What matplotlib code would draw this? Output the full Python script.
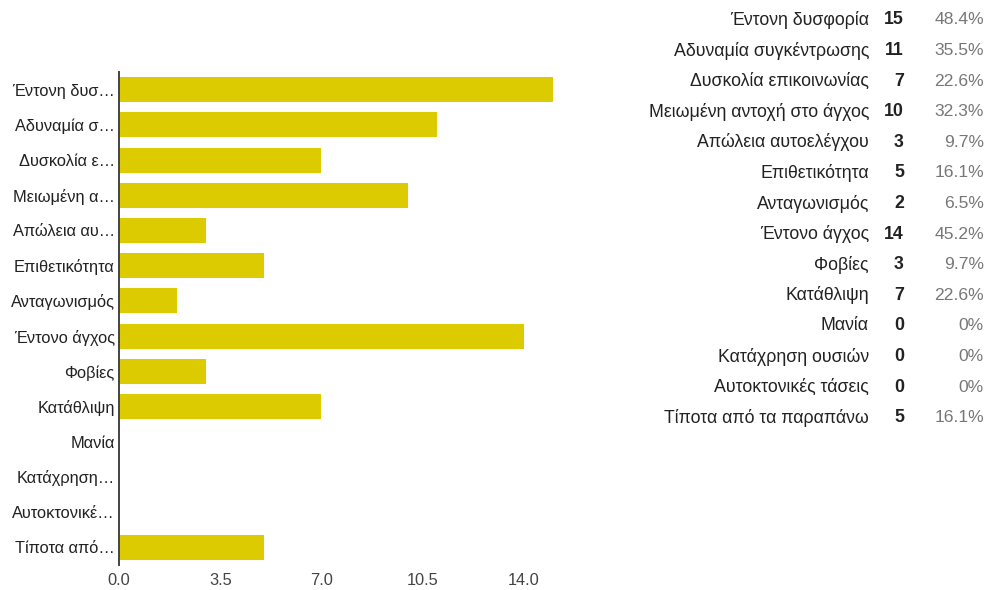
import matplotlib
matplotlib.use("Agg")
import matplotlib.pyplot as plt

# Survey responses (31 respondents)
full_labels = [
    "Έντονη δυσφορία", "Αδυναμία συγκέντρωσης", "Δυσκολία επικοινωνίας",
    "Μειωμένη αντοχή στο άγχος", "Απώλεια αυτοελέγχου", "Επιθετικότητα",
    "Ανταγωνισμός", "Έντονο άγχος", "Φοβίες", "Κατάθλιψη", "Μανία",
    "Κατάχρηση ουσιών", "Αυτοκτονικές τάσεις", "Τίποτα από τα παραπάνω",
]
short_labels = [
    "Έντονη δυσ…", "Αδυναμία σ…", "Δυσκολία ε…", "Μειωμένη α…",
    "Απώλεια αυ…", "Επιθετικότητα", "Ανταγωνισμός", "Έντονο άγχος",
    "Φοβίες", "Κατάθλιψη", "Μανία", "Κατάχρηση…", "Αυτοκτονικέ…",
    "Τίποτα από…",
]
counts = [15, 11, 7, 10, 3, 5, 2, 14, 3, 7, 0, 0, 0, 5]
percents = ["48.4%", "35.5%", "22.6%", "32.3%", "9.7%", "16.1%", "6.5%",
            "45.2%", "9.7%", "22.6%", "0%", "0%", "0%", "16.1%"]
xticks = [0.0, 3.5, 7.0, 10.5, 14.0]

plt.rcParams["font.family"] = ["Liberation Sans", "DejaVu Sans"]

W, H = 987, 590
fig = plt.figure(figsize=(W / 100, H / 100), dpi=100)

# Bar chart on the left
left, right, top, bottom = 119, 564.5, 72, 565
ax = fig.add_axes([left / W, 1 - bottom / H, (right - left) / W, (bottom - top) / H])
ypos = list(range(len(counts)))
ax.barh(ypos, counts, height=0.71, color="#dccb00")
ax.set_ylim(len(counts) - 0.5, -0.5)
ax.set_xlim(0, 15.4)
ax.set_yticks(ypos)
ax.set_yticklabels(short_labels, fontsize=11.8, color="#222222")
ax.set_xticks(xticks)
ax.set_xticklabels([f"{t:.1f}" for t in xticks], fontsize=11.8, color="#444444")
ax.tick_params(axis="both", length=0)
ax.tick_params(axis="y", pad=3)
ax.tick_params(axis="x", pad=6)
for s in ("top", "right", "bottom"):
    ax.spines[s].set_visible(False)
ax.spines["left"].set_color("#444444")
ax.spines["left"].set_linewidth(1.4)

# Summary table on the right
row0, step = 20, 30.6
for i, (lab, c, p) in enumerate(zip(full_labels, counts, percents)):
    y = 1 - (row0 + i * step) / H
    fig.text(869 / W, y, lab, ha="right", va="center", fontsize=12.8, color="#222222")
    fig.text(904 / W, y, str(c), ha="right", va="center", fontsize=12.8,
             fontweight="bold", color="#222222")
    fig.text(984 / W, y, p, ha="right", va="center", fontsize=12.6, color="#777777")

fig.savefig("out.png", dpi=100)
